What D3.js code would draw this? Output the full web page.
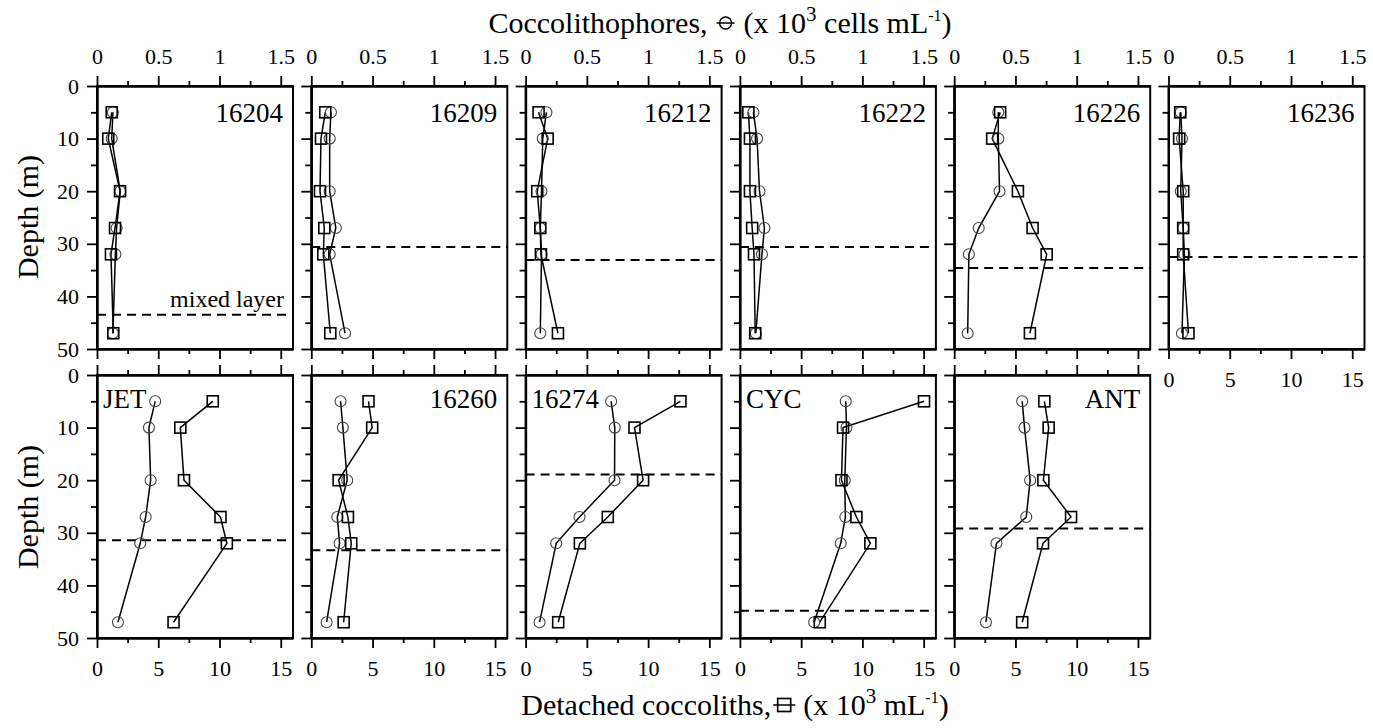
<html>
<script src="https://cdn.jsdelivr.net/npm/d3@7/dist/d3.min.js"></script>
<body style="margin:0;background:#fff">
<svg width=1373 height=728></svg>
</body>
<script>

// stations, top row first then bottom row
var stations = ["16204","16209","16212","16222","16226","16236","JET","16260","16274","CYC","ANT"];
var depths = [5, 10, 20, 27, 32, 47];

// coccolithophores (x 10^3 cells mL-1), one list per station
var cells = [
  [0.13, 0.12, 0.19, 0.16, 0.15, 0.13],
  [0.16, 0.15, 0.15, 0.20, 0.15, 0.275],
  [0.17, 0.14, 0.13, 0.12, 0.13, 0.12],
  [0.11, 0.14, 0.16, 0.20, 0.18, 0.13],
  [0.36, 0.36, 0.37, 0.20, 0.12, 0.11],
  [0.10, 0.11, 0.10, 0.12, 0.13, 0.11],
  [0.475, 0.424, 0.438, 0.397, 0.353, 0.171],
  [0.239, 0.258, 0.293, 0.212, 0.231, 0.125],
  [0.698, 0.728, 0.726, 0.44, 0.25, 0.114],
  [0.864, 0.87, 0.856, 0.861, 0.823, 0.606],
  [0.555, 0.574, 0.62, 0.588, 0.345, 0.259]
];

// detached coccoliths (x 10^3 mL-1)
var detached = [
  [1.2, 0.92, 1.88, 1.47, 1.14, 1.33],
  [1.14, 0.79, 0.71, 1.06, 0.98, 1.55],
  [1.06, 1.8, 0.95, 1.2, 1.25, 2.64],
  [0.69, 0.82, 0.82, 1.0, 1.15, 1.25],
  [3.75, 3.1, 5.2, 6.4, 7.55, 6.18],
  [0.96, 0.87, 1.2, 1.2, 1.2, 1.63],
  [9.45, 6.8, 7.1, 10.08, 10.6, 6.25],
  [4.67, 4.97, 2.23, 2.99, 3.26, 2.64],
  [12.64, 8.89, 9.59, 6.71, 4.43, 2.66],
  [15.03, 8.42, 8.29, 9.51, 10.65, 6.52],
  [7.36, 7.71, 7.28, 9.54, 7.25, 5.55]
];

// mixed layer depth (m)
var mixedLayer = [43.5, 30.6, 33.1, 30.6, 34.6, 32.5, 31.4, 33.3, 18.9, 44.8, 29.2];

var cellTicks = [0, 0.5, 1, 1.5];
var cellMinor = [0.25, 0.75, 1.25];
var detTicks = [0, 5, 10, 15];
var detMinor = [2.5, 7.5, 12.5];
var depthTicks = [0, 10, 20, 30, 40, 50];
var depthMinor = [5, 15, 25, 35, 45];

var leftLabels = ["JET", "16274", "CYC"];

var font = "'Liberation Serif', 'Times New Roman', serif";
var W = 196, H = 263;
var svg = d3.select("svg");

function styleAxis(sel) {
  sel.select(".domain").attr("stroke", "#000").attr("stroke-width", 2);
  sel.selectAll(".tick line").attr("stroke", "#000").attr("stroke-width", 1.8);
  sel.selectAll("text").attr("font-family", font).attr("font-size", 22).attr("fill", "#000");
}

var x1 = d3.scaleLinear().domain([0, 1.6]).range([0, W]);
var x2 = d3.scaleLinear().domain([0, 16]).range([0, W]);
var y = d3.scaleLinear().domain([0, 50]).range([0, H]);

stations.forEach(function(name, i) {
  var row = i < 6 ? 0 : 1;
  var col = i < 6 ? i : i - 6;
  var left = 97 + col * 214.3;
  var top = row == 0 ? 86 : 375;
  var g = svg.append("g").attr("transform", "translate(" + left + "," + top + ")");

  // top axis (cells)
  g.append("g").call(d3.axisTop(x1).tickValues(cellMinor).tickSize(5).tickSizeOuter(0).tickFormat("")).call(styleAxis);
  g.append("g").call(d3.axisTop(x1).tickValues(cellTicks).tickSize(10).tickSizeOuter(0).tickPadding(12)
      .tickFormat(function(d) { return row == 0 ? d : ""; })).call(styleAxis);

  // bottom axis (detached)
  var showBottom = row == 1 || i == 5;
  var gb = g.append("g").attr("transform", "translate(0," + H + ")");
  gb.append("g").call(d3.axisBottom(x2).tickValues(detMinor).tickSize(5).tickSizeOuter(0).tickFormat("")).call(styleAxis);
  gb.append("g").call(d3.axisBottom(x2).tickValues(detTicks).tickSize(10).tickSizeOuter(0).tickPadding(12)
      .tickFormat(function(d) { return showBottom ? d : ""; })).call(styleAxis);

  // left axis (depth)
  g.append("g").call(d3.axisLeft(y).tickValues(depthMinor).tickSize(6).tickSizeOuter(0).tickFormat("")).call(styleAxis);
  g.append("g").call(d3.axisLeft(y).tickValues(depthTicks).tickSize(10).tickSizeOuter(0).tickPadding(8)
      .tickFormat(function(d) { return col == 0 ? d : ""; })).call(styleAxis);

  // frame
  g.append("rect").attr("width", W).attr("height", H)
    .attr("fill", "none").attr("stroke", "#000").attr("stroke-width", 2);

  // mixed layer
  g.append("line").attr("x1", 0).attr("x2", W)
    .attr("y1", y(mixedLayer[i])).attr("y2", y(mixedLayer[i]))
    .attr("stroke", "#000").attr("stroke-width", 2).attr("stroke-dasharray", "9,6");

  var cPts = depths.map(function(d, k) { return [x1(cells[i][k]), y(d)]; });
  var dPts = depths.map(function(d, k) { return [x2(detached[i][k]), y(d)]; });
  var line = d3.line();

  g.append("path").attr("d", line(cPts)).attr("fill", "none").attr("stroke", "#000").attr("stroke-width", 1.5);
  g.append("path").attr("d", line(dPts)).attr("fill", "none").attr("stroke", "#000").attr("stroke-width", 1.5);

  g.selectAll(".c").data(cPts).enter().append("circle")
    .attr("cx", function(p) { return p[0]; }).attr("cy", function(p) { return p[1]; })
    .attr("r", 5.5).attr("fill", "none").attr("stroke", "#444").attr("stroke-width", 1.1);
  g.selectAll(".s").data(dPts).enter().append("rect")
    .attr("x", function(p) { return p[0] - 5.5; }).attr("y", function(p) { return p[1] - 5.5; })
    .attr("width", 11).attr("height", 11)
    .attr("fill", "none").attr("stroke", "#000").attr("stroke-width", 1.6);

  // station label
  var onLeft = leftLabels.indexOf(name) > -1;
  g.append("text").text(name)
    .attr("x", onLeft ? 6 : W - 10).attr("y", row == 0 ? 36 : 33)
    .attr("text-anchor", onLeft ? "start" : "end")
    .attr("font-family", font).attr("font-size", 27);

  if (i == 0) {
    g.append("text").text("mixed layer")
      .attr("x", W - 9).attr("y", 221).attr("text-anchor", "end")
      .attr("font-family", font).attr("font-size", 24);
  }
});

// y titles
[217, 507].forEach(function(cy) {
  svg.append("text").text("Depth (m)")
    .attr("transform", "translate(38," + cy + ") rotate(-90)")
    .attr("text-anchor", "middle").attr("font-family", font).attr("font-size", 30);
});

// axis titles with symbol
function title(cx, by, pre, parts, sym, gap, off, half) {
  var g = svg.append("g");
  var t1 = g.append("text").text(pre).attr("y", by)
    .attr("font-family", font).attr("font-size", 30);
  var t2 = g.append("text").attr("y", by).attr("font-family", font).attr("font-size", 30);
  parts.forEach(function(p) {
    t2.append("tspan").text(p[0]).attr("font-size", p[1]).attr("dy", p[2]);
  });
  var w1 = t1.node().getComputedTextLength();
  var w2 = t2.node().getComputedTextLength();
  var x0 = cx - (w1 + gap + w2) / 2;
  t1.attr("x", x0);
  t2.attr("x", x0 + w1 + gap);
  var sx = x0 + w1 + off, sy = by - 10;
  g.append("line").attr("x1", sx - half).attr("x2", sx + half).attr("y1", sy).attr("y2", sy)
    .attr("stroke", "#000").attr("stroke-width", 1.5);
  if (sym == "circle") {
    g.append("circle").attr("cx", sx).attr("cy", sy).attr("r", 6)
      .attr("fill", "none").attr("stroke", "#000").attr("stroke-width", 1.4);
  } else {
    g.append("rect").attr("x", sx - 6.5).attr("y", sy - 6.5).attr("width", 13).attr("height", 13)
      .attr("fill", "none").attr("stroke", "#000").attr("stroke-width", 1.7);
  }
}

title(720, 33, "Coccolithophores,",
  [["(x 10", 30, 0], ["3", 21, -12], [" cells mL", 30, 12], ["-1", 16, -12], [")", 30, 12]],
  "circle", 36, 18, 9);
title(735, 715, "Detached coccoliths,",
  [["(x 10", 30, 0], ["3", 21, -12], [" mL", 30, 12], ["-1", 16, -12], [")", 30, 12]],
  "square", 32, 13, 11);

</script>
</html>
